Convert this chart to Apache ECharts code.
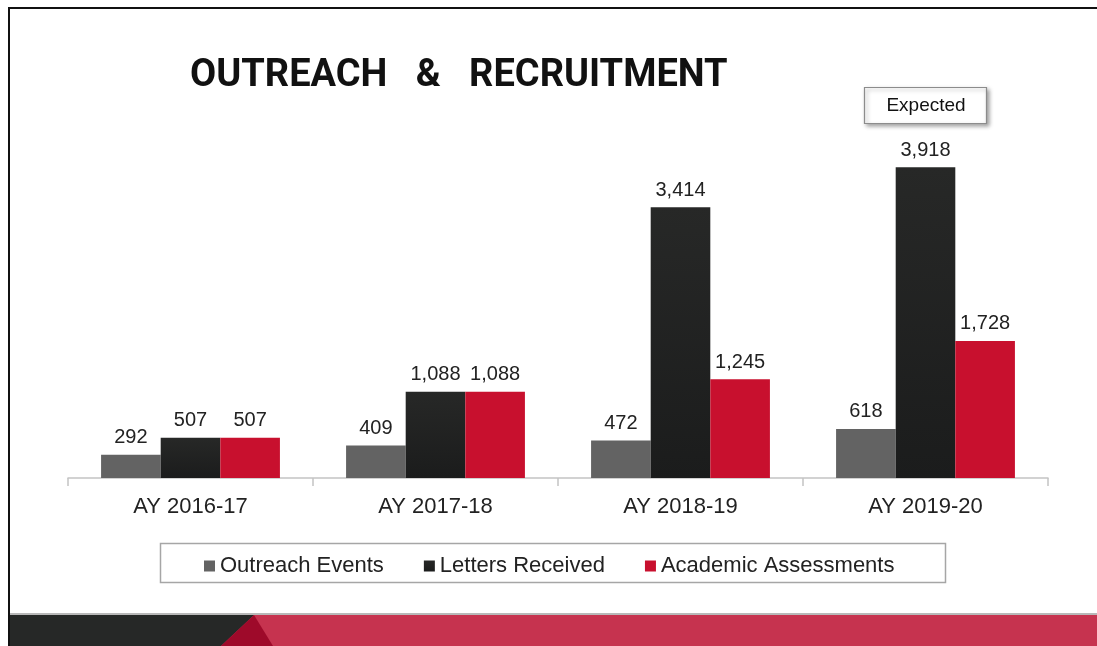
<!DOCTYPE html>
<html>
<head>
<meta charset="utf-8">
<script src="https://cdn.jsdelivr.net/npm/echarts@6/dist/echarts.min.js"></script>
<style>
html, body { margin: 0; padding: 0; background: #fff; }
#chartMain { width: 1097px; height: 646px; }
</style>
</head>
<body>
<div id="chartMain"></div>
<script>
var categories = ['AY 2016-17', 'AY 2017-18', 'AY 2018-19', 'AY 2019-20'];
var outreachEvents = [292, 409, 472, 618];
var lettersReceived = [507, 1088, 3414, 3918];
var academicAssessments = [507, 1088, 1245, 1728];

var myChart = echarts.init(document.getElementById('chartMain'));

var labelStyle = {
    show: true,
    position: 'top',
    distance: 7,
    fontSize: 20,
    fontFamily: 'Liberation Sans',
    color: '#222',
    formatter: function (p) {
        return p.value.toLocaleString('en-US');
    }
};

var option = {
    backgroundColor: '#fff',
    animation: false,
    title: {
        text: 'OUTREACH   &   RECRUITMENT',
        left: 185,
        top: 52,
        textStyle: {
            fontFamily: 'Roboto',
            fontWeight: 'bold',
            fontSize: 38,
            color: '#111'
        }
    },
    legend: {
        data: ['Outreach Events', 'Letters Received', 'Academic Assessments'],
        left: 199,
        top: 550,
        itemWidth: 11,
        itemHeight: 11,
        itemGap: 40,
        icon: 'rect',
        textStyle: {
            fontSize: 22,
            fontFamily: 'Liberation Sans',
            color: '#222',
            padding: [0, 0, 0, 0]
        }
    },
    grid: {
        top: 121,
        left: 68,
        right: 49,
        bottom: 168
    },
    xAxis: {
        type: 'category',
        data: categories,
        axisLine: { lineStyle: { color: '#c4c4c4', width: 1.5 } },
        axisTick: { show: true, length: 8, lineStyle: { color: '#c4c4c4', width: 1.5 } },
        axisLabel: {
            fontSize: 22,
            fontFamily: 'Liberation Sans',
            color: '#222',
            margin: 18
        }
    },
    yAxis: {
        type: 'value',
        min: 0,
        max: 4500,
        show: false,
        splitLine: { show: false }
    },
    series: [
        {
            name: 'Outreach Events',
            type: 'bar',
            barGap: '0%',
            barCategoryGap: '27%',
            itemStyle: { color: '#636363' },
            label: labelStyle,
            data: outreachEvents
        },
        {
            name: 'Letters Received',
            type: 'bar',
            itemStyle: {
                color: new echarts.graphic.LinearGradient(0, 0, 0, 1, [
                    { offset: 0, color: '#272827' },
                    { offset: 1, color: '#1b1c1c' }
                ])
            },
            label: labelStyle,
            data: lettersReceived
        },
        {
            name: 'Academic Assessments',
            type: 'bar',
            itemStyle: { color: '#c8102e' },
            label: labelStyle,
            data: academicAssessments
        }
    ],
    graphic: [
        // frame lines
        { type: 'line', shape: { x1: 8, y1: 8, x2: 1097, y2: 8 }, style: { stroke: '#111', lineWidth: 2 } },
        { type: 'line', shape: { x1: 9, y1: 8, x2: 9, y2: 646 }, style: { stroke: '#111', lineWidth: 2 } },
        // legend box
        { type: 'rect', shape: { x: 160.5, y: 543.5, width: 785, height: 39 }, style: { fill: 'none', stroke: '#a6a6a6', lineWidth: 1.5 }, z: -1 },
        // expected box
        {
            type: 'rect',
            shape: { x: 864.5, y: 87.5, width: 122, height: 36 },
            style: { fill: '#fff', stroke: '#8c8c8c', lineWidth: 1.2, shadowBlur: 4, shadowOffsetX: 2, shadowOffsetY: 2, shadowColor: 'rgba(0,0,0,0.35)' }
        },
        {
            type: 'text',
            x: 926, y: 106,
            style: { text: 'Expected', fontSize: 19, fontFamily: 'Liberation Sans', fill: '#111', align: 'center', verticalAlign: 'middle' }
        },
        // bottom band
        { type: 'rect', shape: { x: 10, y: 613, width: 1087, height: 3 }, style: { fill: '#b8b8b8' } },
        { type: 'rect', shape: { x: 10, y: 615, width: 1087, height: 31 }, style: { fill: '#c6334f' } },
        { type: 'polygon', shape: { points: [[10, 615], [254, 615], [221, 646], [10, 646]] }, style: { fill: '#262827' } },
        { type: 'polygon', shape: { points: [[254, 615], [273, 646], [221, 646]] }, style: { fill: '#9e0a2a' } }
    ]
};

myChart.setOption(option);

window.onresize = function () {
    setTimeout(function () {
        myChart.resize();
    }, 300);
};
</script>
</body>
</html>
